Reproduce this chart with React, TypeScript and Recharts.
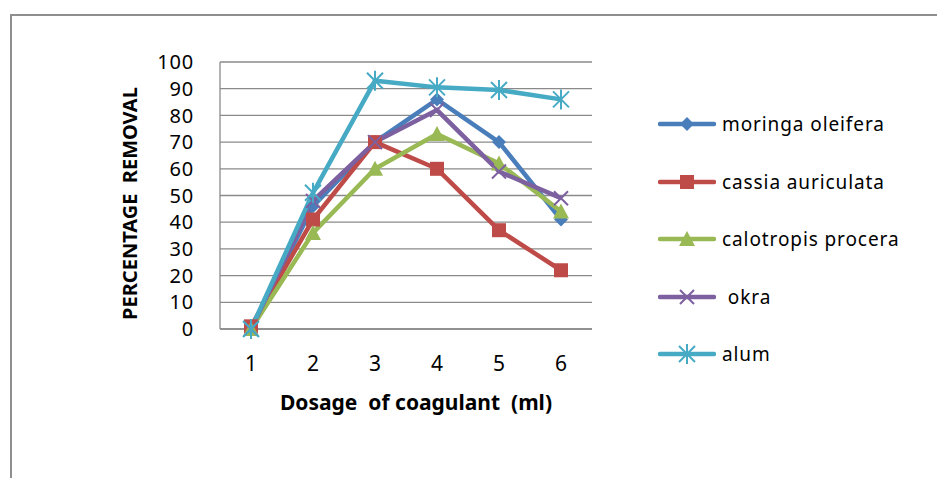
import { LineChart, Line, XAxis, YAxis, CartesianGrid, Legend, Label } from "recharts";

const dosage = [1, 2, 3, 4, 5, 6];
const moringa = [0, 46, 70, 86, 70, 41];
const cassia = [1, 41, 70, 60, 37, 22];
const calotropis = [0, 36, 60, 73, 62, 44];
const okra = [0, 48, 70, 82, 59, 49];
const alum = [0, 51, 93, 90.5, 89.5, 86];
const yTicks = [0, 10, 20, 30, 40, 50, 60, 70, 80, 90, 100];

const series = [
  { key: "moringa", name: "moringa oleifera", color: "#4A7EBB", shape: "diamond", values: moringa },
  { key: "cassia", name: "cassia auriculata", color: "#BE4B48", shape: "square", values: cassia },
  { key: "calotropis", name: "calotropis procera", color: "#98B954", shape: "triangle", values: calotropis },
  { key: "okra", name: " okra", color: "#7D60A0", shape: "cross", values: okra },
  { key: "alum", name: "alum", color: "#46AAC5", shape: "star", values: alum },
];

const data = dosage.map((d, i) => {
  const row: any = { dosage: d };
  series.forEach((s) => (row[s.key] = s.values[i]));
  return row;
});

const font = "'Noto Sans', 'Open Sans', sans-serif";

function marker(shape: string, color: string, cx: number, cy: number, k?: any) {
  switch (shape) {
    case "diamond":
      return <path key={k} d={`M${cx},${cy - 7} L${cx + 7},${cy} L${cx},${cy + 7} L${cx - 7},${cy} Z`} fill={color} />;
    case "square":
      return <rect key={k} x={cx - 7} y={cy - 7} width={14} height={14} fill={color} />;
    case "triangle":
      return <path key={k} d={`M${cx},${cy - 8} L${cx + 8},${cy + 7} L${cx - 8},${cy + 7} Z`} fill={color} />;
    case "cross":
      return (
        <path key={k} d={`M${cx - 7},${cy - 7} L${cx + 7},${cy + 7} M${cx + 7},${cy - 7} L${cx - 7},${cy + 7}`} stroke={color} strokeWidth={2} />
      );
    default:
      return (
        <path
          key={k}
          d={`M${cx - 8},${cy - 8} L${cx + 8},${cy + 8} M${cx + 8},${cy - 8} L${cx - 8},${cy + 8} M${cx},${cy - 10} L${cx},${cy + 10}`}
          stroke={color}
          strokeWidth={2}
        />
      );
  }
}

const LegendBox = () => (
  <div style={{ width: 270, fontFamily: font, fontSize: 19, letterSpacing: 0.9, color: "#000" }}>
    {series.map((s) => (
      <div key={s.key} style={{ height: 57.5, display: "flex", alignItems: "center", paddingLeft: 66, whiteSpace: "nowrap" }}>
        <svg width={58} height={20} style={{ marginRight: 6, flexShrink: 0 }}>
          <line x1={2} y1={10} x2={56} y2={10} stroke={s.color} strokeWidth={4.5} strokeLinecap="round" />
          {marker(s.shape, s.color, 29, 10)}
        </svg>
        <span style={{ whiteSpace: "pre" }}>{s.name}</span>
      </div>
    ))}
  </div>
);

const App = () => {
  return (
    <div style={{ position: "absolute", left: 0, top: 0, width: 937, height: 478, background: "#fff" }}>
      <div
        style={{
          position: "absolute",
          left: 10,
          top: 14,
          right: 0,
          bottom: 0,
          borderTop: "2px solid #8f8f8f",
          borderLeft: "2px solid #8f8f8f",
        }}
      />
      <LineChart width={937} height={478} data={data} margin={{ top: 62, right: 75, bottom: 119, left: 110 }}>
        <CartesianGrid vertical={false} stroke="#8a8a8a" strokeWidth={1.3} />
        <XAxis
          dataKey="dosage"
          padding={{ left: 31, right: 31 }}
          height={30}
          axisLine={{ stroke: "#8a8a8a", strokeWidth: 1.3 }}
          tickLine={false}
          tickSize={0}
          tickMargin={27}
          tick={{ fontSize: 21, fill: "#000", fontFamily: font }}
        >
          <Label
            value={"Dosage\u00A0\u00A0of coagulant\u00A0\u00A0(ml)"}
            position="bottom"
            offset={36}
            dx={10}
            style={{ fontSize: 21, fontWeight: "bold", fill: "#000", fontFamily: font }}
          />
        </XAxis>
        <YAxis
          domain={[0, 100]}
          ticks={yTicks}
          width={110}
          interval={0}
          axisLine={{ stroke: "#8a8a8a", strokeWidth: 1.3 }}
          tickLine={false}
          tickSize={0}
          tickMargin={26}
          tick={{ fontSize: 20, fill: "#000", fontFamily: font, letterSpacing: 0.8 }}
        >
          <Label
            value={"PERCENTAGE\u00A0\u00A0REMOVAL"}
            angle={-90}
            position="insideLeft"
            offset={20}
            dy={8}
            style={{ textAnchor: "middle", fontSize: 20, fontWeight: "bold", fill: "#000", fontFamily: font }}
          />
        </YAxis>
        <Legend layout="vertical" align="right" verticalAlign="middle" width={270} content={() => <LegendBox />} />
        {series.map((s) => (
          <Line
            key={s.key}
            dataKey={s.key}
            name={s.name}
            stroke={s.color}
            strokeWidth={4.5}
            isAnimationActive={false}
            dot={(p: any) => marker(s.shape, s.color, p.cx, p.cy, `${s.key}-${p.index}`)}
            activeDot={false}
          />
        ))}
      </LineChart>
    </div>
  );
};

export default App;
